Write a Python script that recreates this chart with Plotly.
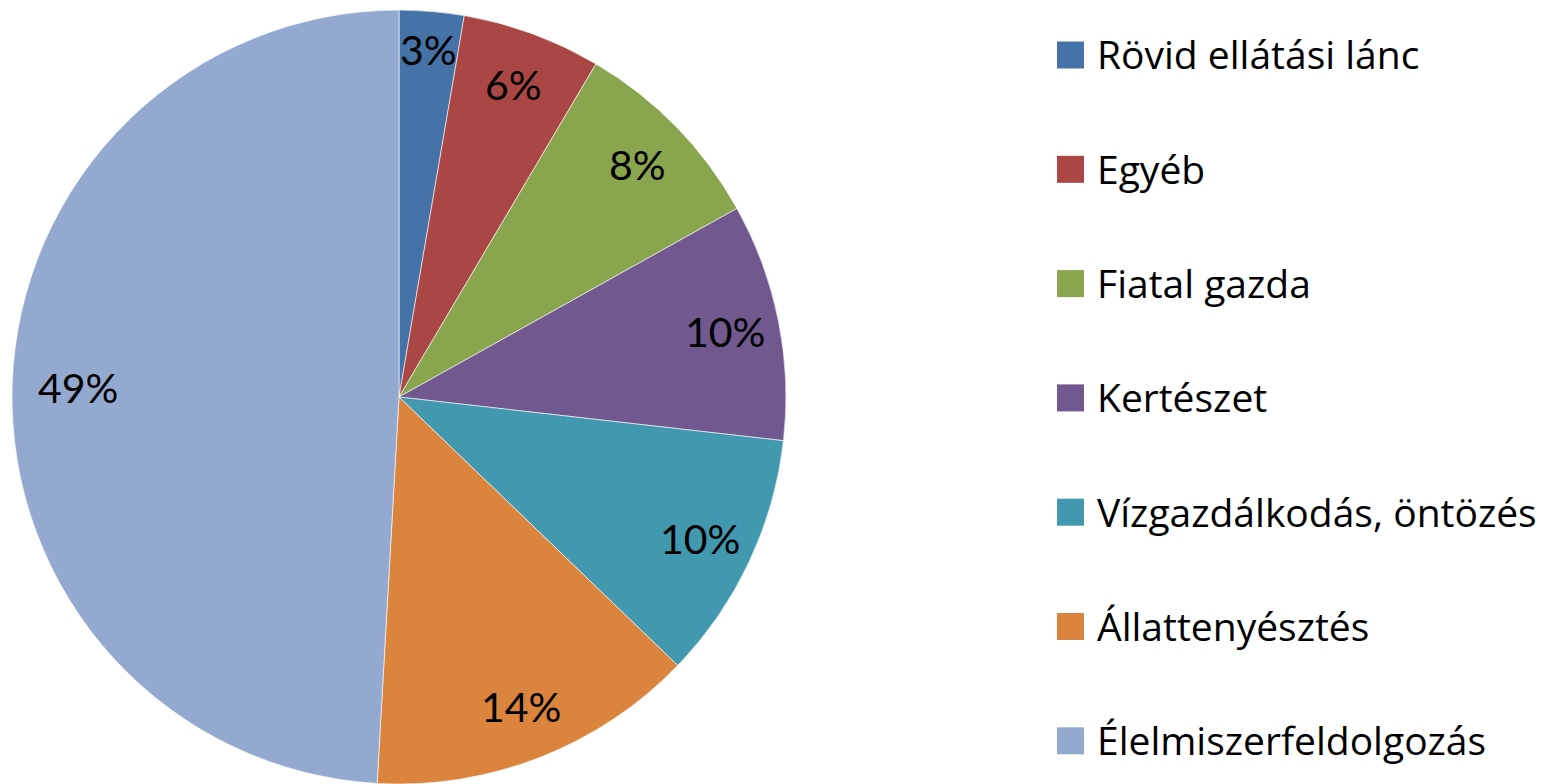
import math
import plotly.graph_objects as go

labels = ["Rövid ellátási lánc", "Egyéb", "Fiatal gazda", "Kertészet",
          "Vízgazdálkodás, öntözés", "Állattenyésztés", "Élelmiszerfeldolgozás"]
values = [2.7, 5.8, 8.4, 9.9, 10.4, 13.7, 49.1]
pct_text = ["3%", "6%", "8%", "10%", "10%", "14%", "49%"]
colors = ["#4572A7", "#AA4643", "#89A54E", "#71588F", "#4198AF", "#DB843D", "#93A9CF"]

W, H = 1568, 784
MT = 10
plot_h = H - MT
R = plot_h / 2.0
cx_px = 399
cy_px = MT + R
FONT = "Lato, 'Open Sans', sans-serif"
LEG_FONT = "'Open Sans', Lato, sans-serif"

fig = go.Figure()
fig.add_trace(go.Pie(
    labels=labels, values=values, sort=False, direction="clockwise", rotation=0,
    marker=dict(colors=colors, line=dict(color="rgba(255,255,255,0.6)", width=1)),
    textinfo="none", showlegend=False, hoverinfo="label+percent",
    domain=dict(x=[(cx_px - R) / W, (cx_px + R) / W], y=[0, 1]),
))

annotations = []
total = sum(values)
cum = 0.0
for v, t in zip(values, pct_text):
    mid = (cum + v / 2) / total * 2 * math.pi
    cum += v
    if v < 4:
        r = 0.90 * R
    elif v < 40:
        r = 0.86 * R
    else:
        r = 0.83 * R
    px = cx_px + r * math.sin(mid)
    py = cy_px - r * math.cos(mid)
    annotations.append(dict(x=px / W, y=(H - py) / plot_h, xref="paper", yref="paper",
                            text=t, showarrow=False, xanchor="center", yanchor="middle",
                            font=dict(family=FONT, size=41, color="black")))

shapes = []
leg_top = 55
leg_step = 114.3
sq = 27
for i, (lab, col) in enumerate(zip(labels, colors)):
    yc = leg_top + i * leg_step
    shapes.append(dict(type="rect", xref="paper", yref="paper",
                       x0=1057 / W, x1=(1057 + sq) / W,
                       y0=(H - (yc + sq / 2)) / plot_h, y1=(H - (yc - sq / 2)) / plot_h,
                       fillcolor=col, line=dict(width=0)))
    annotations.append(dict(x=1095 / W, y=(H - yc + 1) / plot_h, xref="paper", yref="paper",
                            text=lab, showarrow=False, xanchor="left", yanchor="middle",
                            font=dict(family=LEG_FONT, size=39, color="black")))

fig.update_layout(
    width=W, height=H,
    margin=dict(l=0, r=0, t=MT, b=0),
    paper_bgcolor="white", plot_bgcolor="white",
    annotations=annotations, shapes=shapes,
)
fig.write_html("out.html")
